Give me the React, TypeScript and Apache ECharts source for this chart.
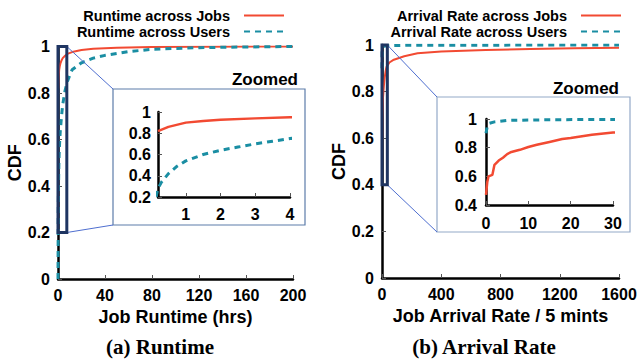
import React, { useEffect, useRef } from "react";
import * as echarts from "echarts";

// ---------- data ----------
const RUNTIME_JOBS: [number, number][] = [
  [0.2, 0.82], [0.5, 0.86], [1, 0.9], [1.5, 0.915], [2, 0.926], [3, 0.94], [4, 0.95],
  [6, 0.96], [8, 0.968], [12, 0.976], [20, 0.985], [30, 0.99], [50, 0.995],
  [80, 0.998], [120, 0.999], [200, 1.0],
];
const RUNTIME_USERS: [number, number][] = [
  [0, 0], [0.2, 0.28], [0.3, 0.34], [0.5, 0.42], [0.75, 0.49], [1, 0.54], [1.5, 0.6],
  [2, 0.64], [2.5, 0.67], [3, 0.7], [3.5, 0.725], [4, 0.75], [6, 0.81], [8, 0.85],
  [12, 0.9], [20, 0.93], [30, 0.95], [40, 0.962], [60, 0.978], [80, 0.988],
  [120, 0.995], [160, 0.998], [200, 1.0],
];
const ARRIVAL_JOBS: [number, number][] = [
  [0, 0.47], [0.3, 0.56], [0.6, 0.6], [1.5, 0.61], [2, 0.68], [3, 0.71], [4, 0.73],
  [5, 0.755], [6, 0.77], [8, 0.785], [10, 0.805], [12, 0.82], [15, 0.84], [18, 0.86],
  [20, 0.868], [25, 0.89], [30, 0.905], [50, 0.925], [80, 0.937], [150, 0.952],
  [240, 0.965], [400, 0.972], [700, 0.979], [1000, 0.983], [1300, 0.986], [1600, 0.988],
];
const ARRIVAL_USERS: [number, number][] = [
  [0, 0.9], [0.3, 0.95], [0.8, 0.97], [2, 0.98], [5, 0.99], [15, 0.995], [30, 0.997],
  [200, 0.999], [1600, 1.0],
];
const RUNTIME_TICKS = [0, 40, 80, 120, 160, 200];
const RUNTIME_ZOOM_TICKS = [1, 2, 3, 4];
const ARRIVAL_TICKS = [0, 400, 800, 1200, 1600];
const ARRIVAL_ZOOM_TICKS = [0, 10, 20, 30];
// zoomed regions [xMin, xMax, yMin, yMax]
const RUNTIME_ZOOM = [0, 7.5, 0.2, 1];
const ARRIVAL_ZOOM = [0, 36, 0.4, 1];
const RUNTIME_ZOOM_X = [0.2, 4];
const ARRIVAL_ZOOM_X = [0, 30];

const NAMES = {
  rj: "Runtime across Jobs",
  ru: "Runtime across Users",
  aj: "Arrival Rate across Jobs",
  au: "Arrival Rate across Users",
};

const RED = "#f24a32";
const TEAL = "#1a8ea3";
const FONT = '"Liberation Sans", Arial, Helvetica, sans-serif';
const SERIF = '"Liberation Serif", "Times New Roman", serif';

const fmt = (v: number) => String(+Number(v).toFixed(2));

function axis(extra: any) {
  return {
    type: "value",
    axisLine: { show: true, onZero: false, lineStyle: { color: "#000", width: 2.5 } },
    axisTick: { show: true, inside: true, length: 4, lineStyle: { color: "#555", width: 1 } },
    splitLine: { show: false },
    nameTextStyle: { fontSize: 18, fontWeight: "bold", color: "#000", fontFamily: FONT },
    ...extra,
    axisLabel: {
      fontSize: 16, fontWeight: "bold", color: "#000", fontFamily: FONT, margin: 8,
      formatter: fmt, ...(extra.axisLabel || {}),
    },
  };
}

function line(name: string, data: any, idx: number, color: string, dashed: boolean, width: number) {
  return {
    type: "line", name, data, xAxisIndex: idx, yAxisIndex: idx,
    showSymbol: false, symbol: "none", smooth: false, clip: true,
    lineStyle: { color, width, type: dashed ? [6, 5] : "solid" },
    itemStyle: { color },
    z: 3,
  };
}

function legend(name: string, right: number, top: number) {
  return {
    data: [name], right, top, orient: "horizontal", align: "right", padding: 0,
    itemWidth: 40, itemHeight: 12, selectedMode: false,
    itemStyle: { opacity: 0 },
    textStyle: { fontSize: 14.5, fontWeight: "bold", color: "#000", fontFamily: FONT, padding: [0, 9, 0, 0] },
  };
}

export default function App() {
  const ref = useRef<HTMLDivElement>(null);
  useEffect(() => {
    if (!ref.current) return;
    const chart = echarts.init(ref.current, null, { renderer: "svg" });
    const option: any = {
      animation: false,
      backgroundColor: "#fff",
      grid: [
        { left: 58, top: 46.5, width: 235, height: 232.5, containLabel: false, outerBoundsMode: "none" },
        { left: 158, top: 112, width: 132, height: 85, containLabel: false, outerBoundsMode: "none" },
        { left: 382, top: 45, width: 237, height: 233, containLabel: false, outerBoundsMode: "none" },
        { left: 486, top: 119, width: 127, height: 86, containLabel: false, outerBoundsMode: "none" },
      ],
      xAxis: [
        axis({
          gridIndex: 0, min: RUNTIME_TICKS[0], max: RUNTIME_TICKS[RUNTIME_TICKS.length - 1],
          interval: RUNTIME_TICKS[1] - RUNTIME_TICKS[0],
          name: "Job Runtime (hrs)", nameLocation: "middle", nameGap: 27,
        }),
        axis({
          gridIndex: 1, min: RUNTIME_ZOOM_X[0], max: RUNTIME_ZOOM_X[1],
          axisLabel: { customValues: RUNTIME_ZOOM_TICKS, margin: 9 },
          axisTick: { show: true, inside: true, length: 4, customValues: RUNTIME_ZOOM_TICKS, lineStyle: { color: "#555", width: 1 } },
        }),
        axis({
          gridIndex: 2, min: ARRIVAL_TICKS[0], max: ARRIVAL_TICKS[ARRIVAL_TICKS.length - 1],
          interval: ARRIVAL_TICKS[1] - ARRIVAL_TICKS[0],
          name: "Job Arrival Rate / 5 mints", nameLocation: "middle", nameGap: 27,
        }),
        axis({
          gridIndex: 3, min: ARRIVAL_ZOOM_X[0], max: ARRIVAL_ZOOM_X[1],
          interval: ARRIVAL_ZOOM_TICKS[1] - ARRIVAL_ZOOM_TICKS[0],
          axisLabel: { margin: 10 },
        }),
      ],
      yAxis: [
        axis({ gridIndex: 0, min: 0, max: 1, interval: 0.2, name: "CDF", nameLocation: "middle", nameGap: 34 }),
        axis({ gridIndex: 1, min: RUNTIME_ZOOM[2], max: 1, interval: 0.2, axisLabel: { margin: 7 } }),
        axis({ gridIndex: 2, min: 0, max: 1, interval: 0.2, name: "CDF", nameLocation: "middle", nameGap: 31 }),
        axis({ gridIndex: 3, min: ARRIVAL_ZOOM[2], max: 1, interval: 0.2, axisLabel: { margin: 9 } }),
      ],
      legend: [
        legend(NAMES.rj, 352, 8),
        legend(NAMES.ru, 352, 24),
        legend(NAMES.aj, 15, 8),
        legend(NAMES.au, 15, 24),
      ],
      series: [
        line(NAMES.rj, RUNTIME_JOBS, 0, RED, false, 2),
        line(NAMES.ru, RUNTIME_USERS, 0, TEAL, true, 3),
        line(NAMES.rj, RUNTIME_JOBS, 1, RED, false, 2.5),
        line(NAMES.ru, RUNTIME_USERS, 1, TEAL, true, 3),
        line(NAMES.aj, ARRIVAL_JOBS, 2, RED, false, 2),
        line(NAMES.au, ARRIVAL_USERS, 2, TEAL, true, 3),
        line(NAMES.aj, ARRIVAL_JOBS, 3, RED, false, 2.5),
        line(NAMES.au, ARRIVAL_USERS, 3, TEAL, true, 3),
      ],
    };
    chart.setOption(option);

    const px = (g: number, v: number[]) => chart.convertToPixel({ gridIndex: g } as any, v) as number[];
    const boxA = { x: 113, y: 89, width: 192, height: 136 };
    const boxB = { x: 437, y: 97, width: 193, height: 135 };
    const mk = (g: number, z: number[], box: any, boxColor: string) => {
      const tl = px(g, [z[0], z[3]]);
      const br = px(g, [z[1], z[2]]);
      return [
        { type: "rect", shape: box, style: { fill: "none", stroke: boxColor, lineWidth: 1.2 }, z: 1 },
        { type: "line", shape: { x1: br[0], y1: tl[1], x2: box.x, y2: box.y }, style: { stroke: "#4f6fd0", lineWidth: 1 }, z: 5 },
        { type: "line", shape: { x1: br[0], y1: br[1], x2: box.x, y2: box.y + box.height }, style: { stroke: "#4f6fd0", lineWidth: 1 }, z: 5 },
        {
          type: "rect", shape: { x: tl[0], y: tl[1], width: br[0] - tl[0], height: br[1] - tl[1] },
          style: { fill: "none", stroke: "#1f3562", lineWidth: 3 }, z: 10,
        },
      ];
    };
    const txt = (x: number, y: number, text: string, align: string, font: string, size: number) => ({
      type: "text", x, y, z: 10,
      style: { text, fill: "#000", font: `bold ${size}px ${font}`, textAlign: align, textVerticalAlign: "middle" },
    });
    chart.setOption({
      graphic: [
        ...mk(0, RUNTIME_ZOOM, boxA, "#5d7caa"),
        ...mk(2, ARRIVAL_ZOOM, boxB, "#93a9c8"),
        txt(298, 79, "Zoomed", "right", FONT, 17),
        txt(619, 88, "Zoomed", "right", FONT, 17),
        txt(160, 347, "(a) Runtime", "center", SERIF, 21),
        txt(484, 347, "(b) Arrival Rate", "center", SERIF, 21),
      ],
    });
    return () => chart.dispose();
  }, []);
  return <div ref={ref} style={{ width: 637, height: 360, position: "absolute", left: 0, top: 0 }} />;
}
